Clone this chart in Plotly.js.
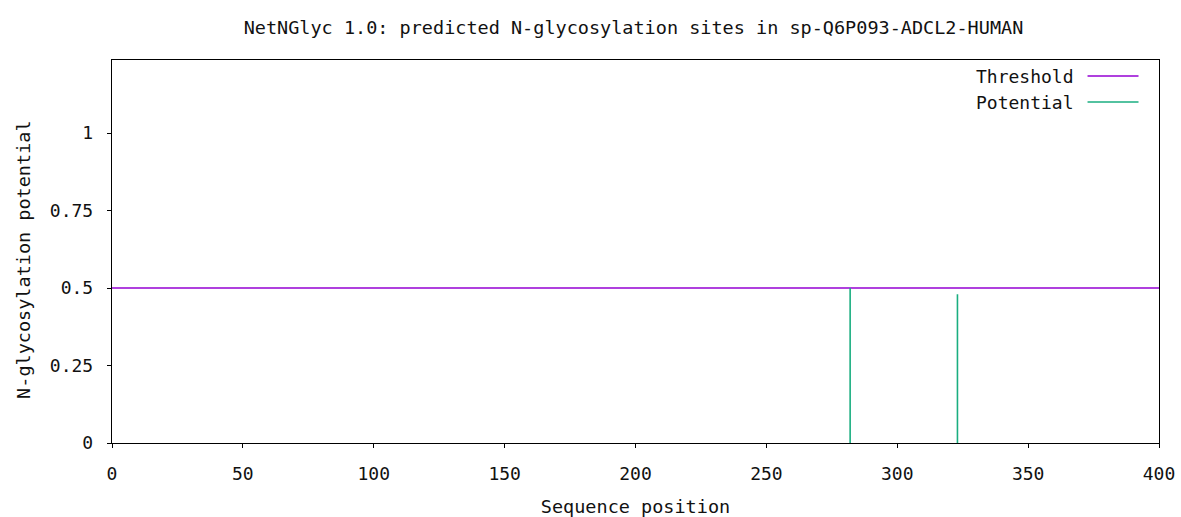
<!DOCTYPE html>
<html>
<head>
<meta charset="utf-8">
<script src="https://cdn.plot.ly/plotly-3.0.1.min.js"></script>
<style>html,body{margin:0;padding:0;background:#fff}#chart{width:1181px;height:517px}</style>
</head>
<body>
<div id="chart"></div>
<script>
const sitePositions = [282, 323];
const sitePotentials = [0.50, 0.48];
const thresholdX = [0, 400];
const thresholdY = [0.5, 0.5];
const xTickVals = [0, 50, 100, 150, 200, 250, 300, 350, 400];
const yTickVals = [0, 0.25, 0.5, 0.75, 1];
const yTickText = ['0', '0.25', '0.5', '0.75', '1'];

const FONT = 'DejaVu Sans Mono, monospace';
const PURPLE = '#9400d3';
const GREEN = '#1aae80';

// impulses built from the site arrays
const impX = [], impY = [];
sitePositions.forEach((p, i) => { impX.push(p, p, null); impY.push(0, sitePotentials[i], null); });

const traces = [
  {x: thresholdX, y: thresholdY, type: 'scatter', mode: 'lines', name: 'Threshold',
   line: {color: PURPLE, width: 1.6}, showlegend: false, hoverinfo: 'skip'},
  {x: impX, y: impY, type: 'scatter', mode: 'lines', name: 'Potential',
   line: {color: GREEN, width: 1.6}, showlegend: false, connectgaps: false}
];

const layout = {
  width: 1181, height: 517,
  margin: {l: 112, r: 21.5, t: 60, b: 73.7, pad: 0},
  paper_bgcolor: '#fff', plot_bgcolor: '#fff',
  font: {family: FONT, size: 18, color: '#000'},
  title: {text: 'NetNGlyc 1.0: predicted N-glycosylation sites in sp-Q6P093-ADCL2-HUMAN',
          font: {family: FONT, size: 18.5, color: '#111'}, x: 0.5364, xanchor: 'center', y: 0.946, yanchor: 'middle'},
  xaxis: {range: [0, 400], tickvals: xTickVals, ticks: 'outside', ticklen: 4, tickcolor: '#000',
          showline: true, mirror: true, linecolor: '#000', linewidth: 1.2, showgrid: false, zeroline: false,
          tickfont: {family: FONT, size: 18, color: '#111'}, ticklabelstandoff: 10,
          title: {text: 'Sequence position', font: {family: FONT, size: 18.5, color: '#111'}, standoff: 19}},
  yaxis: {range: [0, 1.236], tickvals: yTickVals, ticktext: yTickText, ticks: 'outside', ticklen: 4, tickcolor: '#000',
          showline: true, mirror: true, linecolor: '#000', linewidth: 1.2, showgrid: false, zeroline: false,
          tickfont: {family: FONT, size: 18, color: '#111'}, ticklabelstandoff: 10},
  annotations: [
    {text: 'N-glycosylation potential', xref: 'paper', yref: 'paper', x: (24 - 112) / 1047.5, y: (443.3 - 260) / 383.3,
     xanchor: 'center', yanchor: 'middle', textangle: -90, showarrow: false, font: {family: FONT, size: 18.5, color: '#111'}},
    {text: 'Threshold', xref: 'paper', yref: 'paper', x: (1076 - 112) / 1047.5, y: (443.3 - 77) / 383.3,
     xanchor: 'right', yanchor: 'middle', showarrow: false, font: {family: FONT, size: 18, color: '#111'}},
    {text: 'Potential', xref: 'paper', yref: 'paper', x: (1076 - 112) / 1047.5, y: (443.3 - 103) / 383.3,
     xanchor: 'right', yanchor: 'middle', showarrow: false, font: {family: FONT, size: 18, color: '#111'}}
  ],
  shapes: [
    {type: 'line', xref: 'paper', yref: 'paper', x0: (1088 - 112) / 1047.5, x1: (1139 - 112) / 1047.5,
     y0: (443.3 - 76) / 383.3, y1: (443.3 - 76) / 383.3, line: {color: PURPLE, width: 1.6}},
    {type: 'line', xref: 'paper', yref: 'paper', x0: (1088 - 112) / 1047.5, x1: (1139 - 112) / 1047.5,
     y0: (443.3 - 102) / 383.3, y1: (443.3 - 102) / 383.3, line: {color: GREEN, width: 1.6}}
  ]
};

Plotly.newPlot('chart', traces, layout, {displayModeBar: false, staticPlot: true});
</script>
</body>
</html>
